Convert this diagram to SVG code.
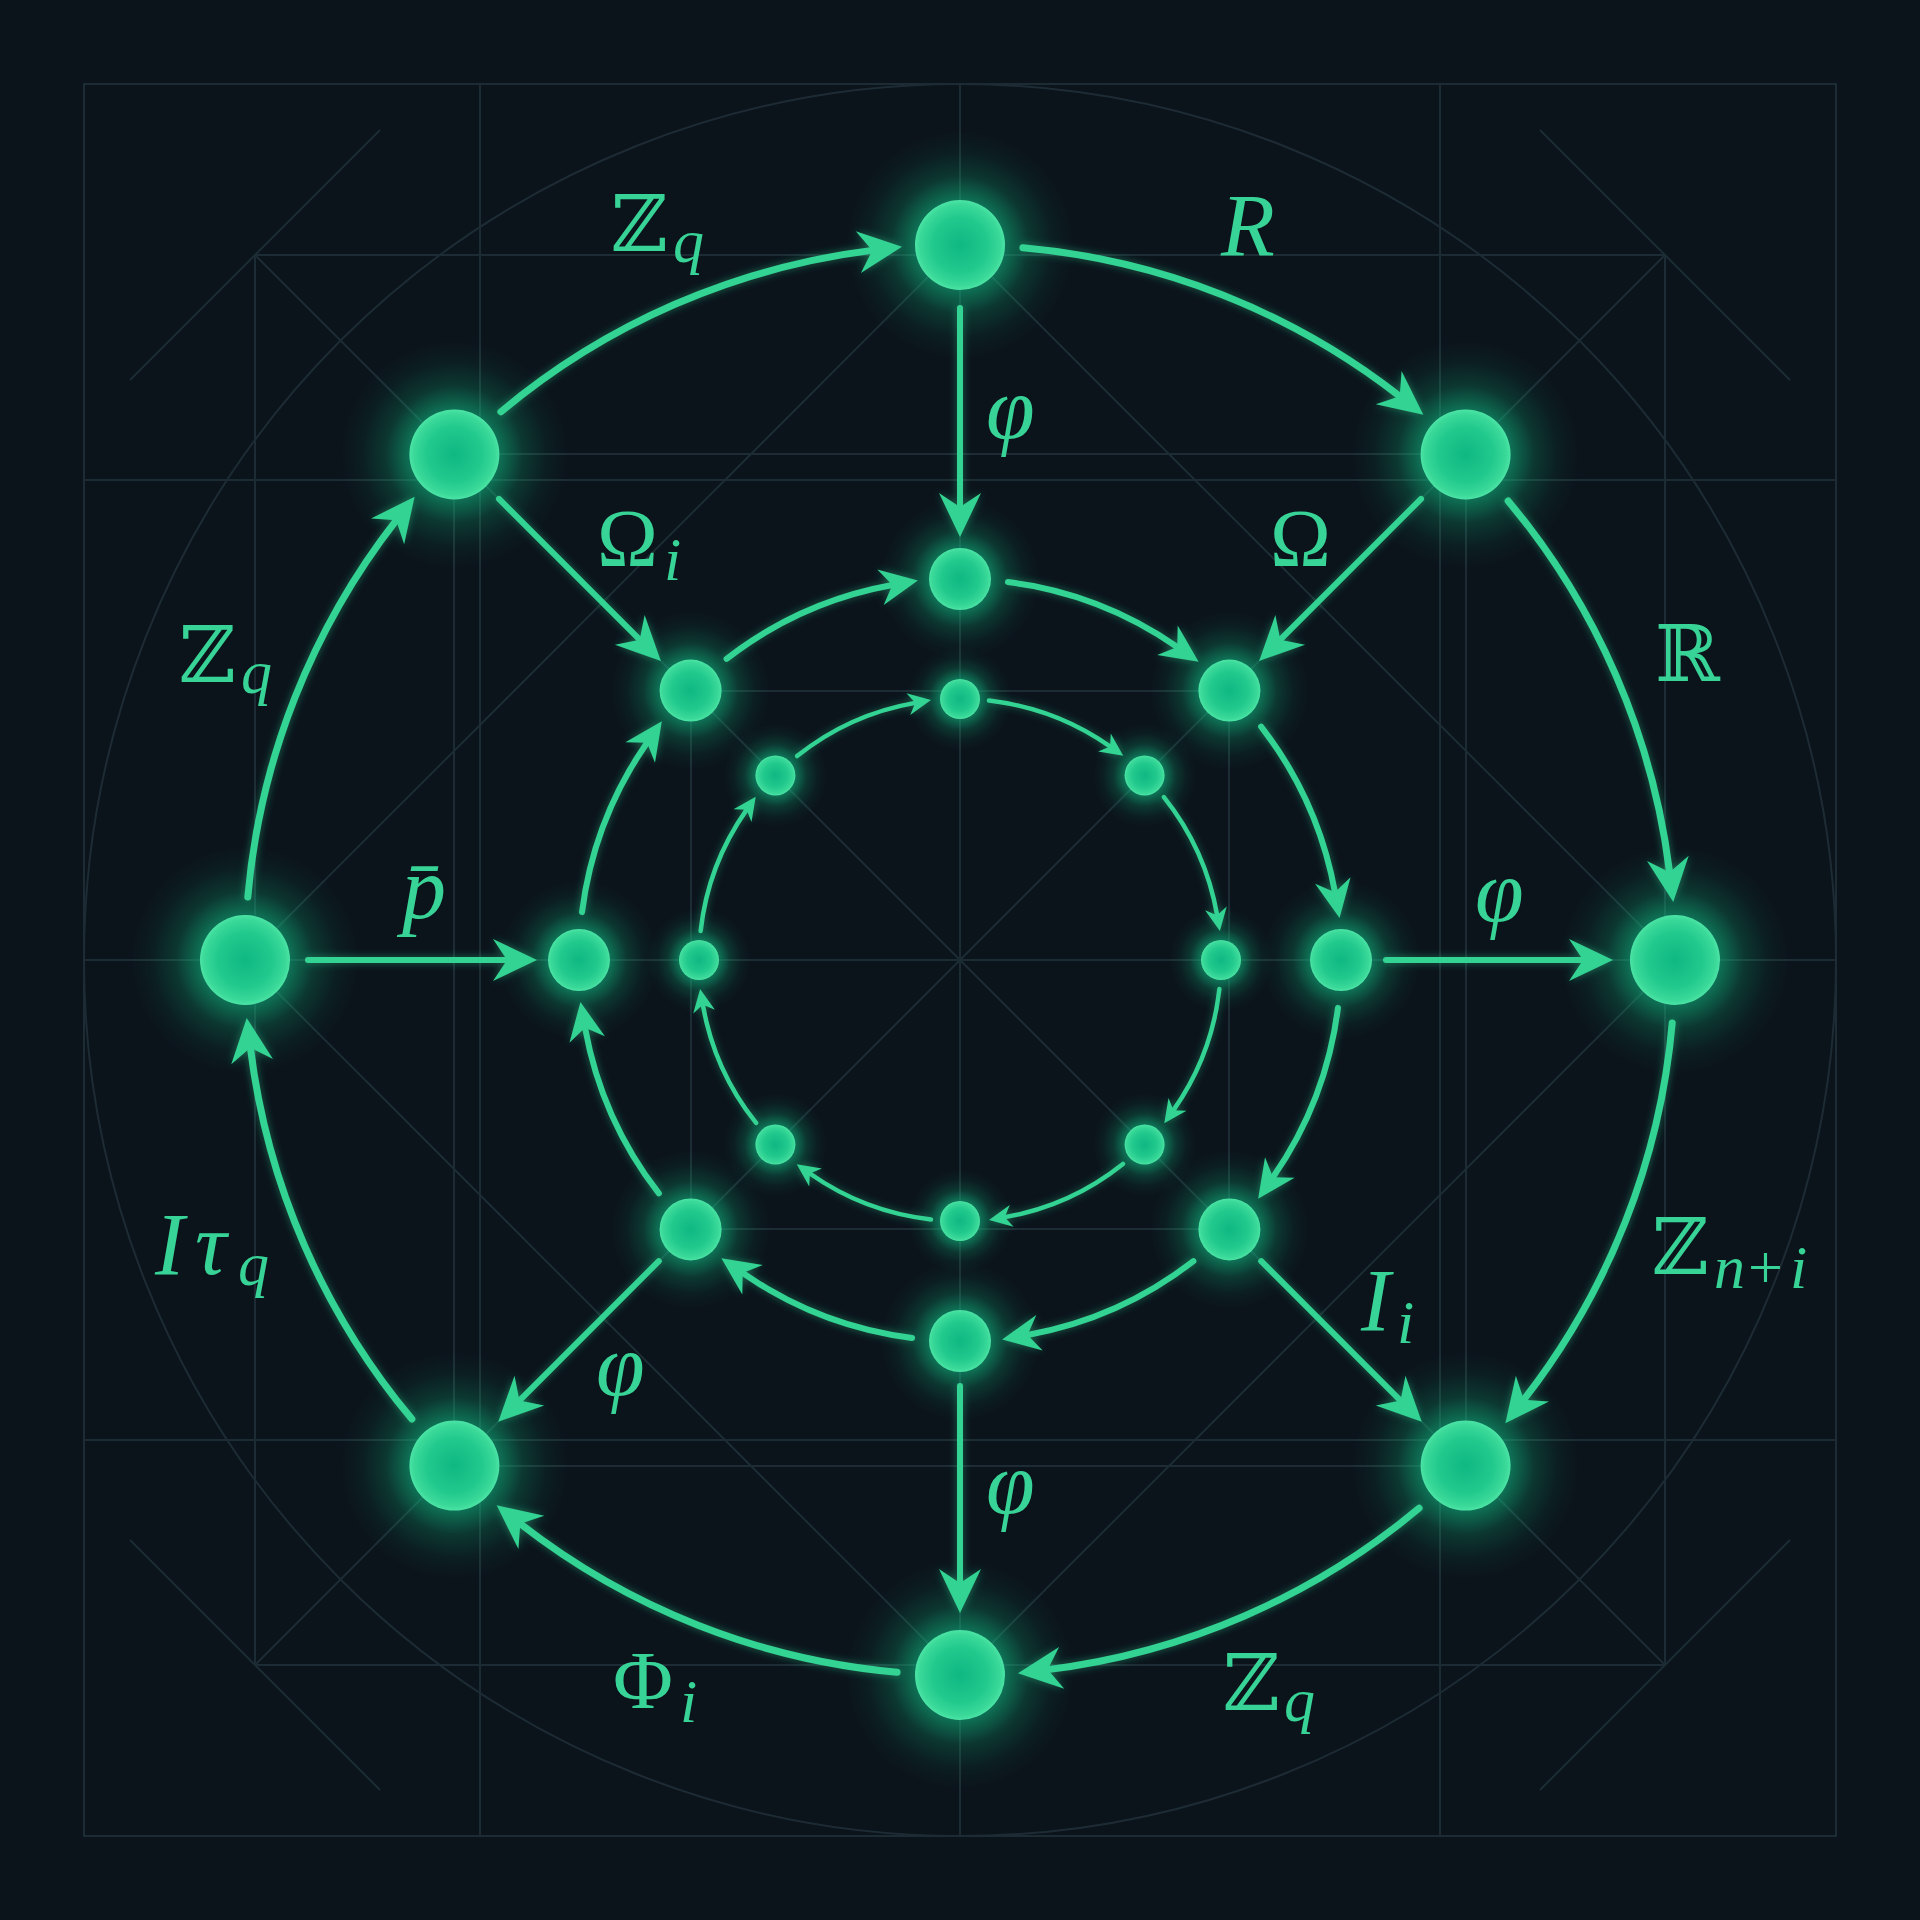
<svg xmlns="http://www.w3.org/2000/svg" width="1920" height="1920" viewBox="0 0 1920 1920">
<defs>
<style>
.bg{fill:none;stroke:#1d2c34;stroke-width:2}
.e{fill:none;stroke:#33d393;stroke-linecap:round}
.eo{stroke-width:7;marker-end:url(#arrL)}
.er{stroke-width:6;marker-end:url(#arrL)}
.em{stroke-width:6;marker-end:url(#arrM)}
.ei{stroke-width:4.5;marker-end:url(#arrS)}
.lbl{fill:#38d396;font-family:"Liberation Serif","DejaVu Serif",serif;font-size:88px}
.it{font-style:italic}
.up{font-size:82px}
.bb{font-family:"DejaVu Serif","DejaVu Sans",serif;font-size:78px}
.sub{font-size:62px;font-style:italic}
.glow{fill:url(#gGlow)}
.node{fill:url(#gNode)}
</style>
<radialGradient id="gNode" cx="50%" cy="50%" r="50%">
<stop offset="0" stop-color="#0fb882"/>
<stop offset="0.6" stop-color="#21c98d"/>
<stop offset="0.9" stop-color="#3ad999"/>
<stop offset="1" stop-color="#4ce4a6"/>
</radialGradient>
<radialGradient id="gGlow" cx="50%" cy="50%" r="50%">
<stop offset="0" stop-color="#10b981" stop-opacity="0.7"/>
<stop offset="0.4" stop-color="#10b981" stop-opacity="0.55"/>
<stop offset="0.6" stop-color="#10b981" stop-opacity="0.22"/>
<stop offset="0.8" stop-color="#10b981" stop-opacity="0.07"/>
<stop offset="1" stop-color="#10b981" stop-opacity="0"/>
</radialGradient>
<filter id="soft" x="-20%" y="-20%" width="140%" height="140%">
<feGaussianBlur in="SourceGraphic" stdDeviation="4" result="b"/>
<feComponentTransfer in="b" result="b2"><feFuncA type="linear" slope="0.45"/></feComponentTransfer>
<feMerge><feMergeNode in="b2"/><feMergeNode in="SourceGraphic"/></feMerge>
</filter>
<marker id="arrL" viewBox="-20 -30 60 60" markerWidth="60" markerHeight="60" refX="0" refY="0" orient="auto" markerUnits="userSpaceOnUse">
<path d="M-14,-21 L30,0 L-14,21 L0,0 Z" fill="#33d393"/>
</marker>
<marker id="arrM" viewBox="-20 -30 60 60" markerWidth="60" markerHeight="60" refX="0" refY="0" orient="auto" markerUnits="userSpaceOnUse">
<path d="M-12,-18 L26,0 L-12,18 L0,0 Z" fill="#33d393"/>
</marker>
<marker id="arrS" viewBox="-20 -30 60 60" markerWidth="60" markerHeight="60" refX="0" refY="0" orient="auto" markerUnits="userSpaceOnUse">
<path d="M-7,-11 L16,0 L-7,11 L0,0 Z" fill="#33d393"/>
</marker>
</defs>

<rect x="0" y="0" width="1920" height="1920" fill="#0b131b"/>

<g id="background-grid">
<rect class="bg" x="84" y="84" width="1752" height="1752"/>
<circle class="bg" cx="960" cy="960" r="876"/>
<line class="bg" x1="480" y1="84" x2="480" y2="1836"/>
<line class="bg" x1="1440" y1="84" x2="1440" y2="1836"/>
<line class="bg" x1="960" y1="84" x2="960" y2="1836"/>
<line class="bg" x1="84" y1="480" x2="1836" y2="480"/>
<line class="bg" x1="84" y1="1440" x2="1836" y2="1440"/>
<line class="bg" x1="84" y1="960" x2="1836" y2="960"/>
<rect class="bg" x="255" y="255" width="1410" height="1410"/>
<line class="bg" x1="255" y1="255" x2="1665" y2="1665"/>
<line class="bg" x1="1665" y1="255" x2="255" y2="1665"/>
<line class="bg" x1="130" y1="380" x2="380" y2="130"/>
<line class="bg" x1="1540" y1="130" x2="1790" y2="380"/>
<line class="bg" x1="1540" y1="1790" x2="1790" y2="1540"/>
<line class="bg" x1="130" y1="1540" x2="380" y2="1790"/>
<polygon class="bg" points="960,245 1675,960 960,1675 245,960"/>
<rect class="bg" x="454" y="454" width="1012" height="1012"/>
<rect class="bg" x="691" y="691" width="538" height="538"/>
</g>

<g id="node-glows">
<circle class="glow" cx="960" cy="245" r="115"/>
<circle class="glow" cx="1465.6" cy="454.4" r="115"/>
<circle class="glow" cx="1675" cy="960" r="115"/>
<circle class="glow" cx="1465.6" cy="1465.6" r="115"/>
<circle class="glow" cx="960" cy="1675" r="115"/>
<circle class="glow" cx="454.4" cy="1465.6" r="115"/>
<circle class="glow" cx="245" cy="960" r="115"/>
<circle class="glow" cx="454.4" cy="454.4" r="115"/>
<circle class="glow" cx="960" cy="579" r="80"/>
<circle class="glow" cx="1229.4" cy="690.6" r="80"/>
<circle class="glow" cx="1341" cy="960" r="80"/>
<circle class="glow" cx="1229.4" cy="1229.4" r="80"/>
<circle class="glow" cx="960" cy="1341" r="80"/>
<circle class="glow" cx="690.6" cy="1229.4" r="80"/>
<circle class="glow" cx="579" cy="960" r="80"/>
<circle class="glow" cx="690.6" cy="690.6" r="80"/>
<circle class="glow" cx="960" cy="699" r="52"/>
<circle class="glow" cx="1144.6" cy="775.4" r="52"/>
<circle class="glow" cx="1221" cy="960" r="52"/>
<circle class="glow" cx="1144.6" cy="1144.6" r="52"/>
<circle class="glow" cx="960" cy="1221" r="52"/>
<circle class="glow" cx="775.4" cy="1144.6" r="52"/>
<circle class="glow" cx="699" cy="960" r="52"/>
<circle class="glow" cx="775.4" cy="775.4" r="52"/>
</g>

<g id="connectors" filter="url(#soft)">
<path class="e eo" d="M1022.94,247.78 A715,715 0 0 1 1399.70,396.19"/>
<path class="e eo" d="M1508.13,500.88 A715,715 0 0 1 1669.60,872.24"/>
<path class="e eo" d="M1672.22,1022.94 A715,715 0 0 1 1523.81,1399.70"/>
<path class="e eo" d="M1419.12,1508.13 A715,715 0 0 1 1047.76,1669.60"/>
<path class="e eo" d="M897.06,1672.22 A715,715 0 0 1 520.30,1523.81"/>
<path class="e eo" d="M411.87,1419.12 A715,715 0 0 1 250.40,1047.76"/>
<path class="e eo" d="M247.78,897.06 A715,715 0 0 1 396.19,520.30"/>
<path class="e eo" d="M500.88,411.87 A715,715 0 0 1 872.24,250.40"/>
<path class="e em" d="M1007.88,582.02 A381,381 0 0 1 1177.28,647.03"/>
<path class="e em" d="M1261.13,726.59 A381,381 0 0 1 1334.95,892.33"/>
<path class="e em" d="M1337.98,1007.88 A381,381 0 0 1 1272.97,1177.28"/>
<path class="e em" d="M1193.41,1261.13 A381,381 0 0 1 1027.67,1334.95"/>
<path class="e em" d="M912.12,1337.98 A381,381 0 0 1 742.72,1272.97"/>
<path class="e em" d="M658.87,1193.41 A381,381 0 0 1 585.05,1027.67"/>
<path class="e em" d="M582.02,912.12 A381,381 0 0 1 647.03,742.72"/>
<path class="e em" d="M726.59,658.87 A381,381 0 0 1 892.33,585.05"/>
<path class="e ei" d="M988.96,700.61 A261,261 0 0 1 1110.15,746.52"/>
<path class="e ei" d="M1163.89,797.06 A261,261 0 0 1 1217.13,915.22"/>
<path class="e ei" d="M1219.39,988.96 A261,261 0 0 1 1173.48,1110.15"/>
<path class="e ei" d="M1122.94,1163.89 A261,261 0 0 1 1004.78,1217.13"/>
<path class="e ei" d="M931.04,1219.39 A261,261 0 0 1 809.85,1173.48"/>
<path class="e ei" d="M756.11,1122.94 A261,261 0 0 1 702.87,1004.78"/>
<path class="e ei" d="M700.61,931.04 A261,261 0 0 1 746.52,809.85"/>
<path class="e ei" d="M797.06,756.11 A261,261 0 0 1 915.22,702.87"/>
<path class="e er" d="M960,308 L960,507"/>
<path class="e er" d="M1421.03,498.97 L1280.32,639.68"/>
<path class="e er" d="M1386,960 L1583,960"/>
<path class="e er" d="M1261.23,1261.23 L1400.53,1400.53"/>
<path class="e er" d="M960,1386 L960,1583"/>
<path class="e er" d="M658.77,1261.23 L519.47,1400.53"/>
<path class="e er" d="M308,960 L507,960"/>
<path class="e er" d="M498.97,498.97 L639.68,639.68"/>
</g>

<g id="node-o-top"><circle class="node" cx="960" cy="245" r="45"/></g>
<g id="node-o-tr"><circle class="node" cx="1465.6" cy="454.4" r="45"/></g>
<g id="node-o-right"><circle class="node" cx="1675" cy="960" r="45"/></g>
<g id="node-o-br"><circle class="node" cx="1465.6" cy="1465.6" r="45"/></g>
<g id="node-o-bottom"><circle class="node" cx="960" cy="1675" r="45"/></g>
<g id="node-o-bl"><circle class="node" cx="454.4" cy="1465.6" r="45"/></g>
<g id="node-o-left"><circle class="node" cx="245" cy="960" r="45"/></g>
<g id="node-o-tl"><circle class="node" cx="454.4" cy="454.4" r="45"/></g>

<g id="node-m-top"><circle class="node" cx="960" cy="579" r="31"/></g>
<g id="node-m-tr"><circle class="node" cx="1229.4" cy="690.6" r="31"/></g>
<g id="node-m-right"><circle class="node" cx="1341" cy="960" r="31"/></g>
<g id="node-m-br"><circle class="node" cx="1229.4" cy="1229.4" r="31"/></g>
<g id="node-m-bottom"><circle class="node" cx="960" cy="1341" r="31"/></g>
<g id="node-m-bl"><circle class="node" cx="690.6" cy="1229.4" r="31"/></g>
<g id="node-m-left"><circle class="node" cx="579" cy="960" r="31"/></g>
<g id="node-m-tl"><circle class="node" cx="690.6" cy="690.6" r="31"/></g>

<g id="node-i-top"><circle class="node" cx="960" cy="699" r="20"/></g>
<g id="node-i-tr"><circle class="node" cx="1144.6" cy="775.4" r="20"/></g>
<g id="node-i-right"><circle class="node" cx="1221" cy="960" r="20"/></g>
<g id="node-i-br"><circle class="node" cx="1144.6" cy="1144.6" r="20"/></g>
<g id="node-i-bottom"><circle class="node" cx="960" cy="1221" r="20"/></g>
<g id="node-i-bl"><circle class="node" cx="775.4" cy="1144.6" r="20"/></g>
<g id="node-i-left"><circle class="node" cx="699" cy="960" r="20"/></g>
<g id="node-i-tl"><circle class="node" cx="775.4" cy="775.4" r="20"/></g>

<g id="labels">
<text class="lbl"><tspan class="bb" x="611" y="251">ℤ</tspan><tspan class="sub" x="673" y="262">q</tspan></text>
<text class="lbl it" x="1221" y="255">R</text>
<text class="lbl bb" x="1655" y="681">ℝ</text>
<text class="lbl"><tspan class="bb" x="1652" y="1274">ℤ</tspan><tspan class="sub" x="1714" y="1288">n</tspan><tspan font-size="62" x="1748" y="1288">+</tspan><tspan class="sub" x="1790" y="1288">i</tspan></text>
<text class="lbl"><tspan class="bb" x="1223" y="1710">ℤ</tspan><tspan class="sub" x="1284" y="1721">q</tspan></text>
<text class="lbl"><tspan class="up" x="613" y="1708">Φ</tspan><tspan class="sub" x="680" y="1722">i</tspan></text>
<text class="lbl"><tspan class="it" x="155" y="1274">I</tspan><tspan class="it" x="195" y="1274">τ</tspan><tspan class="sub" x="238" y="1285">q</tspan></text>
<text class="lbl"><tspan class="bb" x="179" y="682">ℤ</tspan><tspan class="sub" x="241" y="693">q</tspan></text>
<text class="lbl it" x="986" y="438">φ</text>
<text class="lbl up" x="1270" y="566">Ω</text>
<text class="lbl it" x="1475" y="921">φ</text>
<text class="lbl"><tspan class="it" x="1361" y="1330">I</tspan><tspan class="sub" x="1397" y="1343">i</tspan></text>
<text class="lbl it" x="986" y="1513">φ</text>
<text class="lbl it" x="596" y="1395">φ</text>
<text class="lbl it" x="402" y="918" font-size="76">p̄</text>
<text class="lbl"><tspan class="up" x="597" y="566">Ω</tspan><tspan class="sub" x="664" y="580">i</tspan></text>
</g>
</svg>
